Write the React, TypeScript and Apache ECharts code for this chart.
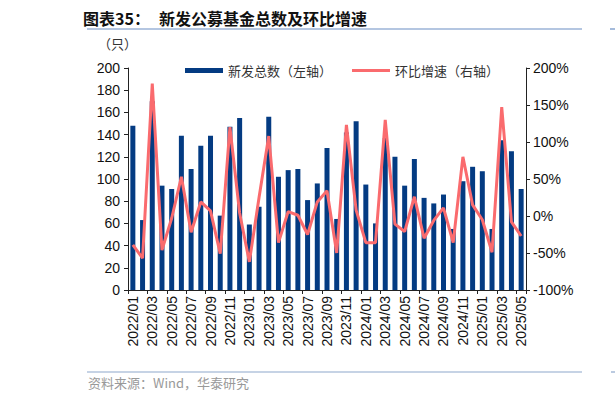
import * as echarts from "echarts";
import { useEffect, useRef } from "react";

const MONTHS = [
  "2022/01", "2022/02", "2022/03", "2022/04", "2022/05", "2022/06", "2022/07", "2022/08", "2022/09", "2022/10", "2022/11", "2022/12",
  "2023/01", "2023/02", "2023/03", "2023/04", "2023/05", "2023/06", "2023/07", "2023/08", "2023/09", "2023/10", "2023/11", "2023/12",
  "2024/01", "2024/02", "2024/03", "2024/04", "2024/05", "2024/06", "2024/07", "2024/08", "2024/09", "2024/10", "2024/11", "2024/12",
  "2025/01", "2025/02", "2025/03", "2025/04", "2025/05",
];

/** 新发总数（只，左轴） */
const NEW_FUND_COUNT = [
  148, 63, 170, 94, 91, 139, 109, 130, 139, 67, 147, 155,
  59, 75, 156, 102, 108, 109, 81, 96, 128, 64, 142, 152,
  95, 60, 137, 120, 94, 118, 83, 78, 86, 55, 98, 111,
  107, 55, 135, 125, 91,
];

/** 环比增速（%，右轴） */
const MOM_GROWTH = [
  -39, -57, 179, -46, -3, 53, -22, 19, 7, -51, 120, 4,
  -62, 25, 108, -36, 6, 1, -25, 19, 34, -50, 123, 8,
  -36, -36, 130, -11, -21, 26, -30, -6, 11, -36, 80, 15,
  -5, -49, 147, -8, -27,
];

const LEFT_TICKS = { min: 0, max: 200, interval: 20 };
const RIGHT_TICKS = { min: -100, max: 200, interval: 50 };

const BAR_COLOR = "#043B82";
const LINE_COLOR = "#FA6B6E";
const RULE_TOP = "#6A8EC4";
const RULE_BOTTOM = "#8EA7CC";
const NUM_FONT = "'Liberation Sans', Arial, sans-serif";
const CJK_FONT = "'Noto Sans CJK SC', sans-serif";

function buildOption(): echarts.EChartsOption {
  const axisLine = { show: true, lineStyle: { color: "#222", width: 1 } };
  const axisTick = { show: true, length: 4, lineStyle: { color: "#222" } };
  return {
    animation: false,
    grid: { left: 128, right: 89, top: 68, bottom: 112, containLabel: false },
    legend: {
      left: 180,
      top: 59,
      itemWidth: 38,
      itemHeight: 5,
      itemGap: 20,
      textStyle: { fontSize: 13, color: "#333", fontFamily: CJK_FONT },
      data: [
        { name: "新发总数（左轴）", icon: "rect" },
        // 图例只画一条线，不画端点圆
        { name: "环比增速（右轴）", icon: "path://M0 0 H120 V9 H0 Z" },
      ],
    },
    xAxis: {
      type: "category",
      data: MONTHS,
      boundaryGap: true,
      axisLine,
      axisTick: { ...axisTick, interval: 1 },
      axisLabel: {
        interval: 1,
        rotate: 90,
        margin: 6,
        fontSize: 14,
        color: "#111",
        fontFamily: NUM_FONT,
      },
    },
    yAxis: [
      {
        type: "value",
        ...LEFT_TICKS,
        axisLine,
        axisTick,
        splitLine: { show: false },
        axisLabel: { fontSize: 14, color: "#111", fontFamily: NUM_FONT, margin: 8 },
      },
      {
        type: "value",
        ...RIGHT_TICKS,
        position: "right",
        axisLine,
        axisTick,
        splitLine: { show: false },
        axisLabel: {
          fontSize: 14,
          color: "#111",
          fontFamily: NUM_FONT,
          margin: 7,
          formatter: (v: number) => `${v}%`,
        },
      },
    ],
    series: [
      {
        name: "新发总数（左轴）",
        type: "bar",
        yAxisIndex: 0,
        barWidth: 5,
        itemStyle: { color: BAR_COLOR },
        data: NEW_FUND_COUNT,
      },
      {
        name: "环比增速（右轴）",
        type: "line",
        yAxisIndex: 1,
        symbol: "none",
        z: 3,
        lineStyle: { color: LINE_COLOR, width: 3 },
        itemStyle: { color: LINE_COLOR },
        data: MOM_GROWTH,
      },
    ],
    graphic: [
      {
        type: "text",
        left: 83,
        top: 10,
        style: { text: "图表35：", fontSize: 16, fontWeight: "bold", fill: "#111", fontFamily: CJK_FONT },
      },
      {
        type: "text",
        left: 159,
        top: 10,
        style: { text: "新发公募基金总数及环比增速", fontSize: 16, fontWeight: "bold", fill: "#111", fontFamily: CJK_FONT },
      },
      {
        type: "line",
        shape: { x1: 87, y1: 29, x2: 582, y2: 29 },
        style: { stroke: RULE_TOP, lineWidth: 1.2 },
      },
      {
        type: "text",
        left: 98,
        top: 37,
        style: { text: "（只）", fontSize: 13, fill: "#333", fontFamily: CJK_FONT },
      },
      {
        type: "line",
        shape: { x1: 87, y1: 372, x2: 582, y2: 372 },
        style: { stroke: RULE_BOTTOM, lineWidth: 1.2 },
      },
      {
        type: "text",
        left: 88,
        top: 376,
        style: { text: "资料来源：Wind，华泰研究", fontSize: 13, fill: "#999", fontFamily: CJK_FONT },
      },
      // 右侧相邻版块的分隔线残边
      {
        type: "line",
        shape: { x1: 610, y1: 29, x2: 640, y2: 29 },
        style: { stroke: RULE_TOP, lineWidth: 1.2 },
      },
      {
        type: "line",
        shape: { x1: 611, y1: 372, x2: 640, y2: 372 },
        style: { stroke: RULE_BOTTOM, lineWidth: 1.2 },
      },
    ],
  };
}

export default function App() {
  const chartRef = useRef<HTMLDivElement | null>(null);

  useEffect(() => {
    const el = chartRef.current;
    if (!el) {
      return undefined;
    }
    const chart = echarts.init(el, undefined, { renderer: "svg" });
    chart.setOption(buildOption());
    return () => {
      chart.dispose();
    };
  }, []);

  return (
    <div
      ref={chartRef}
      style={{ position: "fixed", left: 0, top: 0, width: 615, height: 402, background: "#fff" }}
    />
  );
}
